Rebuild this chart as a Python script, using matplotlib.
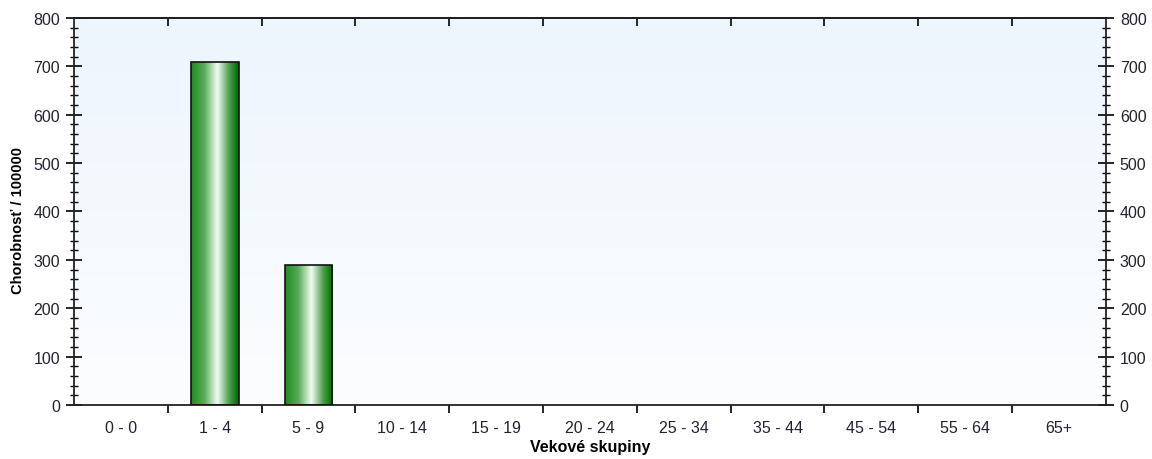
import numpy as np
import matplotlib
matplotlib.use('Agg')
import matplotlib.pyplot as plt
from matplotlib.ticker import MultipleLocator, FixedLocator
from matplotlib.colors import LinearSegmentedColormap

plt.rcParams['font.family'] = ['Liberation Sans', 'DejaVu Sans']

# data
age_groups = ['0 - 0', '1 - 4', '5 - 9', '10 - 14', '15 - 19', '20 - 24',
              '25 - 34', '35 - 44', '45 - 54', '55 - 64', '65+']
morbidity = [0, 709, 290, 0, 0, 0, 0, 0, 0, 0, 0]

fig = plt.figure(figsize=(11.52, 4.6), dpi=100)
ax = fig.add_axes([0.0642, 0.1174, 0.8958, 0.8413])

x = np.arange(len(age_groups))

# background gradient (light blue top -> near white bottom)
bg = LinearSegmentedColormap.from_list('bg', ['#fcfdff', '#edf5fd'])
ax.imshow(np.linspace(0, 1, 256).reshape(-1, 1), cmap=bg, origin='lower',
          aspect='auto', extent=[0, 1, 0, 1], transform=ax.transAxes, zorder=0)

# bars with horizontal cylinder-like gradient
bar_cmap = LinearSegmentedColormap.from_list(
    'bar', [(0.0, '#1e8c1e'), (0.28, '#5aab5a'), (0.55, '#f4fbf4'),
            (0.8, '#4a9f4a'), (1.0, '#006600')])
bars = ax.bar(x, morbidity, width=0.51, facecolor='none', edgecolor='#111111',
              linewidth=1.2, zorder=3)
grad = np.linspace(0, 1, 256).reshape(1, -1)
for b in bars:
    if b.get_height() <= 0:
        b.set_visible(False)
        continue
    x0, w, h = b.get_x(), b.get_width(), b.get_height()
    im = ax.imshow(grad, cmap=bar_cmap, aspect='auto',
                   extent=[x0, x0 + w, 0, h], zorder=2)
    im.set_clip_path(b)
ax.set_xlim(-0.5, len(age_groups) - 0.5)
ax.set_ylim(0, 800)

# spines
for s in ax.spines.values():
    s.set_color('#222222')
    s.set_linewidth(1.3)

# y ticks on both sides
ax.yaxis.set_major_locator(MultipleLocator(100))
ax.yaxis.set_minor_locator(MultipleLocator(20))
ax.tick_params(axis='y', which='major', direction='inout', length=12, width=1.2,
               left=True, right=True, labelleft=True, labelright=True,
               labelsize=11.5, labelcolor='#222233', pad=4)
ax.tick_params(axis='y', which='minor', direction='inout', length=6, width=1.0,
               left=True, right=True)

# x ticks: labels at centres, tick marks at boundaries
ax.set_xticks(x)
ax.set_xticklabels(age_groups)
ax.xaxis.set_minor_locator(FixedLocator(np.arange(0.5, len(age_groups) - 0.5, 1)))
ax.tick_params(axis='x', which='major', length=0, labelsize=11.5,
               labelcolor='#222233', pad=11)
ax.tick_params(axis='x', which='minor', direction='out', length=6, width=1.2,
               bottom=True, top=False)

top = ax.secondary_xaxis('top')
top.set_xticks(np.arange(0.5, len(age_groups) - 0.5, 1))
top.tick_params(direction='in', length=6, width=1.2, labeltop=False)
top.set_xticklabels([])
top.spines['top'].set_linewidth(1.3)

ax.set_xlabel('Vekové skupiny', fontsize=11.5, fontweight='bold', labelpad=3)
ax.set_ylabel('Chorobnosť / 100000', fontsize=10.5, fontweight='bold')
ax.yaxis.set_label_coords(-0.047, 0.48)

fig.savefig('out.png', dpi=100)
